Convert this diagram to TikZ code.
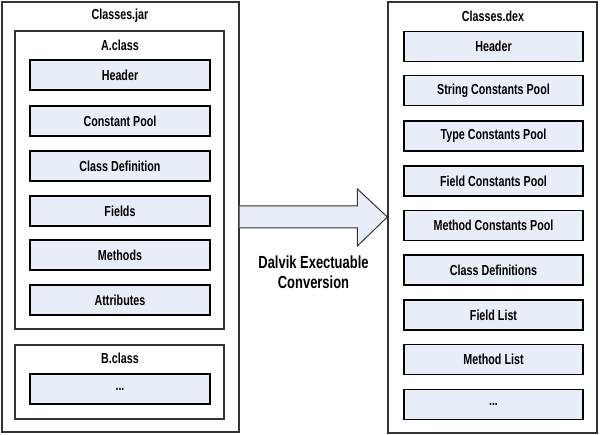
\documentclass[tikz,border=0pt]{standalone}
\usepackage{fontspec}
\setmainfont{Liberation Sans}[FakeStretch=0.74,UprightFont=*,BoldFont=* Bold]
\usepackage{tikz}
\usetikzlibrary{positioning}
\definecolor{boxfill}{HTML}{E8EEF8}
\definecolor{edgegray}{HTML}{333333}

\begin{document}
\begin{tikzpicture}[x=1pt,y=-1pt,
  container/.style={rectangle,draw=edgegray,line width=1.2pt,inner sep=0pt},
  part/.style={rectangle,draw=black,line width=1.4pt,fill=boxfill,inner sep=0pt,
    minimum width=180pt,minimum height=30pt,font=\fontsize{14.5}{17}\selectfont\bfseries},
  caption/.style={font=\fontsize{14.5}{17}\selectfont\bfseries}]
\useasboundingbox (0,0) rectangle (600,435);
% \draw[help lines] (0,0) grid (600,435);
%
\node (jar) [container,minimum width=237pt,minimum height=430pt] at (120.5,217) {};
\node (jarlbl) [caption] at (120,16) {Classes.jar};
\node (acls) [container,minimum width=209pt,minimum height=298pt] at (119.5,180) {};
\node (acllbl) [caption] at (120,45) {A.class};
\node (aheader) [part] at (120,75) {Header};
\node (apool) [part] at (120,121) {Constant Pool};
\node (adef) [part] at (120,166) {Class Definition};
\node (afields) [part] at (120,211) {Fields};
\node (amethods) [part] at (120,255) {Methods};
\node (aattr) [part] at (120,300) {Attributes};
\node (bcls) [container,minimum width=209pt,minimum height=74pt] at (119.5,382) {};
\node (bcllbl) [caption] at (120,358) {B.class};
\node (bdots) [part] at (120,389) {...};
%
\node (dex) [container,minimum width=209pt,minimum height=431pt] at (492.5,217.5) {};
\node (dexlbl) [caption] at (493,16) {Classes.dex};
\node (dheader) [part,minimum width=179pt] at (493.5,46.5) {Header};
\node (dstring) [part,minimum width=179pt] at (493.5,90.5) {String Constants Pool};
\node (dtype) [part,minimum width=179pt] at (493.5,136) {Type Constants Pool};
\node (dfield) [part,minimum width=179pt] at (493.5,181) {Field Constants Pool};
\node (dmethod) [part,minimum width=179pt] at (493.5,225.5) {Method Constants Pool};
\node (ddefs) [part,minimum width=179pt] at (493.5,270) {Class Definitions};
\node (dflist) [part,minimum width=179pt] at (493.5,315) {Field List};
\node (dmlist) [part,minimum width=179pt] at (493.5,359.5) {Method List};
\node (ddots) [part,minimum width=179pt] at (493.5,404.5) {...};
%
\coordinate (tail) at (jar.east |- 0,217);
\coordinate (tip) at (dex.west |- 0,217);
\draw[draw=edgegray,line width=1pt,fill=boxfill,line join=miter]
  ([yshift=-11pt]tail) -- ([xshift=-30pt,yshift=-11pt]tip) -- ([xshift=-30pt,yshift=-29pt]tip)
  -- (tip) -- ([xshift=-30pt,yshift=28pt]tip) -- ([xshift=-30pt,yshift=11pt]tip)
  -- ([yshift=11pt]tail);
\node (convlbl) [align=center,font=\fontsize{17.5}{20}\selectfont\bfseries] at (313.5,272) {Dalvik Exectuable\\Conversion};
\end{tikzpicture}
\end{document}
